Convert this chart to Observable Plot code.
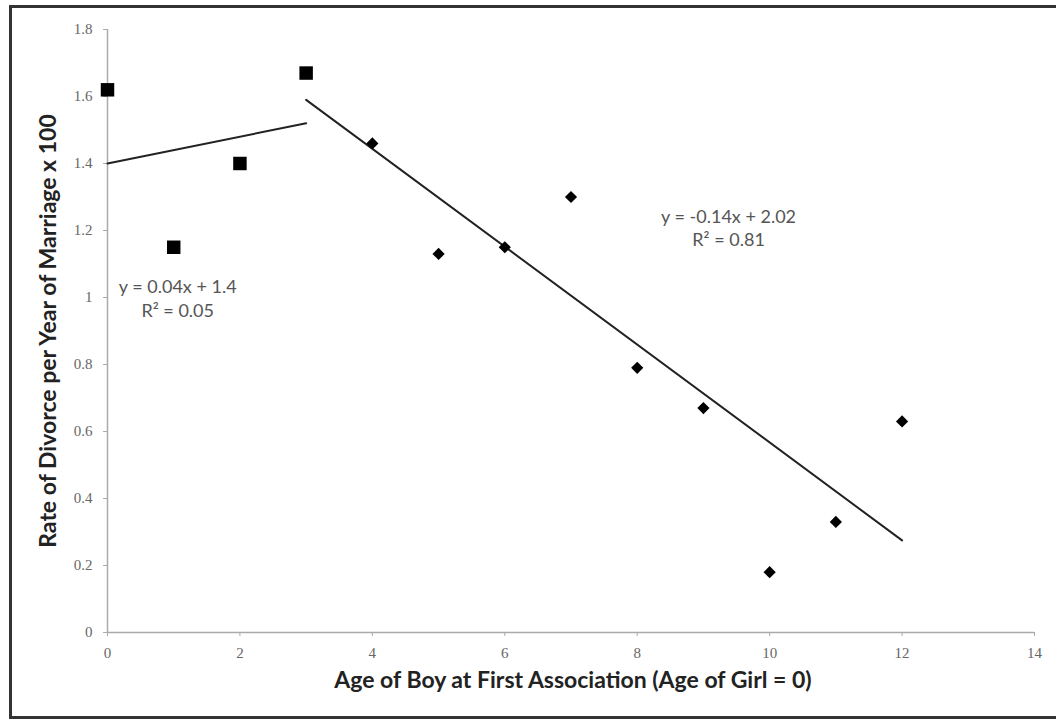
<!DOCTYPE html>
<html>
<head>
<meta charset="utf-8">
<script src="https://cdn.jsdelivr.net/npm/d3@7"></script>
<script src="https://cdn.jsdelivr.net/npm/@observablehq/plot@0.6"></script>
<style>
  html, body { margin: 0; padding: 0; background: #fff; overflow: hidden; }
  #wrap { position: relative; width: 1056px; height: 722px; }
  #frame { position: absolute; left: 9px; top: 5px; width: 1100px; height: 708px;
           border: 3px solid #333; pointer-events: none; box-sizing: content-box; }
</style>
</head>
<body>
<div id="wrap"><div id="chart"></div><div id="frame"></div></div>
<script>
// Data
const squareAges = [0, 1, 2, 3];
const squareRates = [1.62, 1.15, 1.40, 1.67];
const diamondAges = [4, 5, 6, 7, 8, 9, 10, 11, 12];
const diamondRates = [1.46, 1.13, 1.15, 1.30, 0.79, 0.67, 0.18, 0.33, 0.63];
// Linear trend line endpoints (as drawn)
const trendLeftX = [0, 3];
const trendLeftY = [1.40, 1.52];
const trendRightX = [3, 12];
const trendRightY = [1.59, 0.275];
// Tick labels
const xTicks = [0, 2, 4, 6, 8, 10, 12, 14];
const yTicks = [0, 0.2, 0.4, 0.6, 0.8, 1, 1.2, 1.4, 1.6, 1.8];
const yTickLabels = ["0", "0.2", "0.4", "0.6", "0.8", "1", "1.2", "1.4", "1.6", "1.8"];
// Annotations
const eqLeft = "y = 0.04x + 1.4\nR² = 0.05";
const eqRight = "y = -0.14x + 2.02\nR² = 0.81";
const xTitle = "Age of Boy at First Association (Age of Girl = 0)";
const yTitle = "Rate of Divorce per Year of Marriage x 100";

const squares = squareAges.map((x, i) => ({x, y: squareRates[i]}));
const diamonds = diamondAges.map((x, i) => ({x, y: diamondRates[i]}));
const tl = trendLeftX.map((x, i) => ({x, y: trendLeftY[i]}));
const tr = trendRightX.map((x, i) => ({x, y: trendRightY[i]}));

const plot = Plot.plot({
  width: 1056,
  height: 722,
  marginLeft: 107,
  marginRight: 22,
  marginTop: 29,
  marginBottom: 90,
  style: {fontFamily: "Liberation Serif", fontSize: "15px", background: "transparent"},
  x: {domain: [0, 14]},
  y: {domain: [0, 1.8]},
  marks: [
    Plot.ruleX([0], {stroke: "#aaa", strokeWidth: 1.5}),
    Plot.ruleY([0], {stroke: "#aaa", strokeWidth: 1.5}),
    Plot.axisX({ticks: xTicks, tickSize: 4, tickPadding: 11, stroke: "#aaa", fill: "#666", label: null, fontSize: 15}),
    Plot.axisY({ticks: yTicks, tickFormat: (d) => yTickLabels[yTicks.indexOf(d)], tickSize: 4, tickPadding: 11, stroke: "#aaa", fill: "#666", label: null, fontSize: 15}),
    Plot.line(tl, {x: "x", y: "y", stroke: "#222", strokeWidth: 2}),
    Plot.line(tr, {x: "x", y: "y", stroke: "#222", strokeWidth: 2}),
    Plot.dot(squares, {x: "x", y: "y", symbol: "square", r: 7.6, fill: "#000", stroke: "none"}),
    Plot.dot(diamonds, {x: "x", y: "y", symbol: "diamond2", r: 5.5, fill: "#000", stroke: "none"}),
    Plot.text([eqLeft], {x: 1.06, y: 1.0, text: (d) => d, fontFamily: "Lato", fontSize: 18, fill: "#555", lineHeight: 1.3, textAnchor: "middle"}),
    Plot.text([eqRight], {x: 9.38, y: 1.21, text: (d) => d, fontFamily: "Lato", fontSize: 18, fill: "#555", lineHeight: 1.3, textAnchor: "middle"}),
    Plot.text([xTitle], {frameAnchor: "bottom", dx: 2, dy: 55, text: (d) => d, fontFamily: "Lato", fontWeight: "bold", fontSize: 23, fill: "#222", textAnchor: "middle"}),
    Plot.text([yTitle], {frameAnchor: "left", dx: -59, rotate: -90, text: (d) => d, fontFamily: "Lato", fontWeight: "bold", fontSize: 23, fill: "#222", textAnchor: "middle"})
  ]
});
document.getElementById("chart").appendChild(plot);
</script>
</body>
</html>
